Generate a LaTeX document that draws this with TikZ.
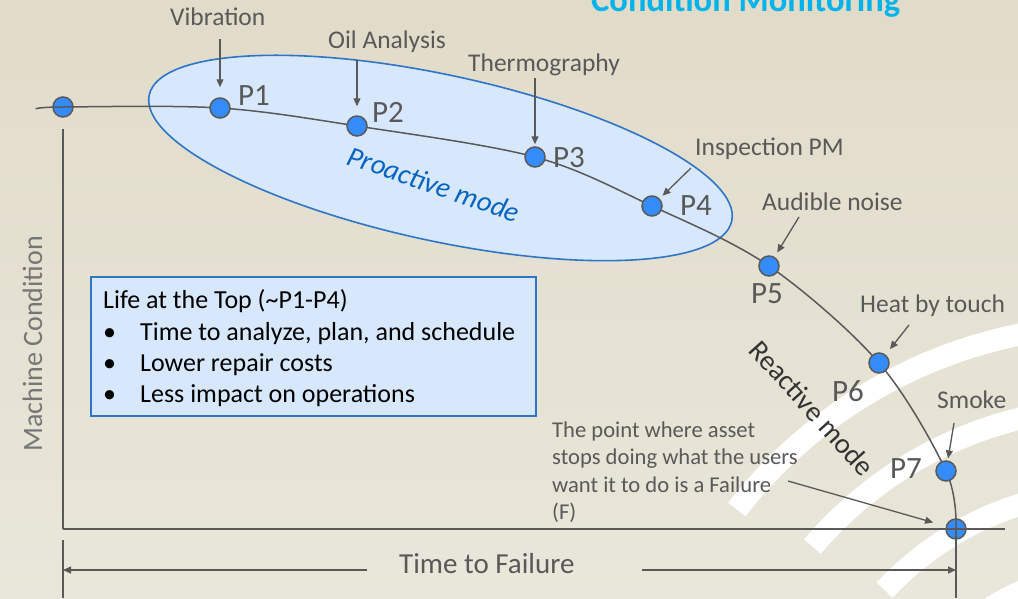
\documentclass[tikz,border=0pt]{standalone}
\usepackage{fontspec}
\setmainfont{Carlito}
\usetikzlibrary{arrows.meta}
\definecolor{bgtop}{RGB}{225,219,201}
\definecolor{bgbot}{RGB}{233,231,219}
\definecolor{ln}{RGB}{89,89,89}
\definecolor{dotblue}{RGB}{51,140,250}
\definecolor{lightblue}{RGB}{216,232,252}
\definecolor{edgeblue}{RGB}{46,117,200}
\definecolor{problue}{RGB}{5,99,193}
\definecolor{titlecyan}{RGB}{0,180,235}
\definecolor{axisgray}{RGB}{118,118,118}
\definecolor{reactgray}{RGB}{51,51,51}
\pgfdeclarelayer{bgl}
\pgfdeclarelayer{low}
\pgfdeclarelayer{lines}
\pgfsetlayers{bgl,low,lines,main}
\tikzset{
  dot/.style={circle, fill=dotblue, draw=ln, line width=1.5pt, minimum size=20pt, inner sep=0pt},
  lbl/.style={font=\fontsize{25.5}{30}\selectfont, text=ln, inner sep=0pt, anchor=base west},
  plbl/.style={font=\fontsize{31}{36}\selectfont, text=ln, inner sep=0pt, anchor=base west},
  boxtxt/.style={font=\fontsize{26}{31}\selectfont, text=black, inner sep=0pt, anchor=base west},
  note/.style={font=\fontsize{22.6}{27}\selectfont, text=ln, inner sep=0pt, anchor=base west},
  arr/.style={draw=ln, line width=1.3pt, -{Triangle[length=8pt,width=7pt]}},
  axis/.style={draw=ln, line width=1.4pt},
  curve/.style={draw=ln, line width=1.5pt},
  band/.style={draw=white, line width=22pt},
}
\begin{document}
\begin{tikzpicture}[x=1pt,y=1pt]
\useasboundingbox (0,0) rectangle (1018,-598);
\begin{pgfonlayer}{bgl}
  \shade[top color=bgtop, bottom color=bgbot] (0,0) rectangle (1018,-598);
  \begin{scope}
    \clip (0,0) rectangle (1018,-598);
    \coordinate (ac) at (1115,-805);
    \draw[band] ([shift={(142:480)}]ac) arc (142:55:480);
    \draw[band] ([shift={(139.5:398)}]ac) arc (139.5:55:398);
    \draw[band] ([shift={(137:315)}]ac) arc (137:55:315);
    \draw[band] ([shift={(135:233)}]ac) arc (135:55:233);
  \end{scope}
  \coordinate (ec) at (440.5,-158);
  \draw[fill=lightblue, draw=edgeblue, line width=1.6pt, rotate around={-12.2:(ec)}]
    (ec) ellipse [x radius=298pt, y radius=83pt];
  \node[draw=edgeblue, fill=lightblue, line width=2pt, minimum width=445pt, minimum height=139pt,
        inner sep=0pt] (lifebox) at (313.5,-346.5) {};
\end{pgfonlayer}

% title
\node[font=\fontsize{34.5}{40}\selectfont\bfseries, text=titlecyan, inner sep=0pt, anchor=base west]
  (title) at (591,-11) {Condition Monitoring};

% points under lines
\begin{pgfonlayer}{low}
  \node[dot] (p0) at (63,-107) {};
  \node[dot] (pf) at (956,-529) {};
\end{pgfonlayer}

% points on top
\node[dot] (p1) at (220,-108) {};
\node[dot] (p2) at (357,-126) {};
\node[dot] (p3) at (535,-157) {};
\node[dot] (p4) at (652,-206) {};
\node[dot] (p5) at (769,-266) {};
\node[dot] (p6) at (879,-363) {};
\node[dot] (p7) at (946,-471) {};

\coordinate (c0) at (36,-109);
\coordinate (xend) at (1005,-529);
\coordinate (ybot) at (63,-598);
\coordinate (ytop) at (63,-540);
\coordinate (fbot) at (956,-598);
\coordinate (al) at (367,-570);
\coordinate (ar) at (642,-570);

\begin{pgfonlayer}{lines}
  \draw[curve] plot[smooth, tension=0.55] coordinates {(c0) (p0) (p1) (p2) (p3) (p4) (p5) (p6) (p7) (pf)};
  \draw[axis, shorten <=11pt] (p0.south) -- (p0 |- pf);
  \draw[axis] (p0 |- pf) -- (xend);
  \draw[axis] (pf.center) -- (fbot);
  \draw[axis] (ytop) -- (ybot);
\end{pgfonlayer}

% dimension line
\node[font=\fontsize{29}{34}\selectfont, text=ln, inner sep=0pt, anchor=base west] (ttf) at (399,-573) {Time to Failure};
\draw[arr] (al) -- (al -| p0);
\draw[arr] (ar) -- (ar -| pf);

% y label
\node[font=\fontsize{28}{33}\selectfont, text=axisgray, inner sep=0pt, anchor=base west, rotate=90]
  (mc) at (42,-452) {Machine Condition};

% labels
\node[lbl] (vib) at (170,-25) {Vibration};
\node[lbl] (oil) at (328,-48) {Oil Analysis};
\node[lbl] (thm) at (468,-71) {Thermography};
\node[lbl] (ins) at (695,-155) {Inspection PM};
\node[lbl] (aud) at (762,-210) {Audible noise};
\node[lbl] (hbt) at (860,-312) {Heat by touch};
\node[lbl] (smk) at (937,-408) {Smoke};

\node[plbl] (l1) at (238,-105) {P1};
\node[plbl] (l2) at (372,-122) {P2};
\node[plbl] (l3) at (553,-167) {P3};
\node[plbl] (l4) at (680,-215) {P4};
\node[plbl] (l5) at (751,-303) {P5};
\node[plbl] (l6) at (832,-401) {P6};
\node[plbl] (l7) at (890,-478) {P7};

% arrow tails
\coordinate (t1) at (220,-39);
\coordinate (t2) at (357,-60);
\coordinate (t3) at (535,-78);
\coordinate (t4) at (691,-168);
\coordinate (t5) at (799,-217);
\coordinate (t6) at (909,-325);
\coordinate (t7) at (954,-423);
\coordinate (tf) at (788,-481);

\draw[arr, shorten >=10pt] (t1) -- (p1);
\draw[arr, shorten >=9pt] (t2) -- (p2);
\draw[arr, shorten >=2pt] (t3) -- (p3);
\draw[arr, shorten >=4pt] (t4) -- (p4);
\draw[arr, shorten >=5pt] (t5) -- (p5);
\draw[arr, shorten >=7pt] (t6) -- (p6);
\draw[arr, shorten >=2pt] (t7) -- (p7);
\draw[arr, shorten >=13pt] (tf) -- (pf);

% modes
\node[font=\fontsize{28.5}{33}\selectfont\itshape, text=problue, inner sep=0pt, rotate=-19] (pro) at (434,-184) {Proactive mode};
\node[font=\fontsize{28.5}{33}\selectfont, text=reactgray, inner sep=0pt, rotate=-48] (rea) at (812,-408) {Reactive mode};

% box text
\node[boxtxt] (life) at (103,-308) {Life at the Top (\textasciitilde P1-P4)};
\node[boxtxt] (b1) at (103,-340) {\makebox[37pt][l]{\textbullet}Time to analyze, plan, and schedule};
\node[boxtxt] (b2) at (103,-371) {\makebox[37pt][l]{\textbullet}Lower repair costs};
\node[boxtxt] (b3) at (103,-402) {\makebox[37pt][l]{\textbullet}Less impact on operations};

% failure note
\node[note] (n1) at (552,-437) {The point where asset};
\node[note] (n2) at (552,-464) {stops doing what the users};
\node[note] (n3) at (552,-492) {want it to do is a Failure};
\node[note] (n4) at (552,-519) {(F)};
\end{tikzpicture}
\end{document}
